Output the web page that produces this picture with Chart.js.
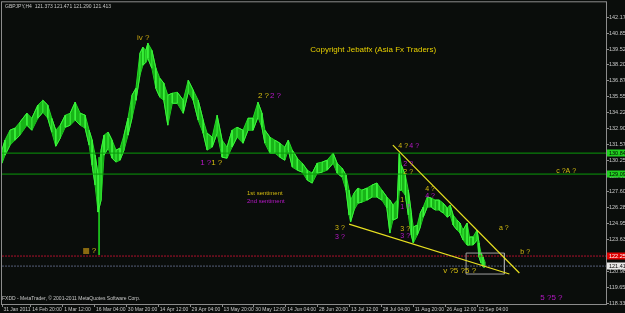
<!DOCTYPE html>
<html>
<head>
<meta charset="utf-8">
<script src="https://cdn.jsdelivr.net/npm/chart.js@4.4.0/dist/chart.umd.min.js"></script>
<style>
  html, body { margin: 0; padding: 0; background: #0a0d0b; }
  #wrap { width: 625px; height: 313px; }
</style>
</head>
<body>
<div id="wrap"><canvas id="myChart" width="625" height="313"></canvas></div>
<script>
// GBPJPY H4, time axis in H4 bars
const timeLabels = ['31 Jan 2011', '14 Feb 20:00', '1 Mar 12:00', '16 Mar 04:00', '30 Mar 20:00', '14 Apr 12:00',
  '29 Apr 04:00', '13 May 20:00', '30 May 12:00', '14 Jun 04:00', '28 Jun 20:00', '13 Jul 12:00',
  '28 Jul 04:00', '11 Aug 20:00', '26 Aug 12:00', '12 Sep 04:00'];
const timeTicks = [6, 64, 128, 192, 256, 320, 384, 448, 512, 576, 640, 704, 768, 832, 896, 960];
const priceTicks = ['142.170', '140.850', '139.520', '138.200', '136.870', '135.550', '134.220', '132.900', '131.570',
  '130.250', '128.930', '127.600', '126.280', '124.950', '123.630', '122.300', '120.980', '119.650', '118.330'];

const barIndex = [6, 12, 22, 32, 42, 56, 66, 78, 88, 98, 106, 114, 123, 133, 143, 153, 163, 173, 181, 187, 193, 199,
  205, 211, 219, 227, 235, 243, 251, 259, 267, 275, 283, 289, 295, 299, 307, 315, 323, 331, 339, 348, 358, 370, 380,
  390, 400, 410, 418, 428, 438, 448, 458, 468, 478, 490, 500, 510, 520, 528, 534, 544, 554, 564, 574, 581, 589, 599,
  609, 619, 629, 639, 649, 659, 671, 679, 689, 697, 703, 706, 713, 721, 729, 739, 749, 759, 769, 779, 785, 791, 800,
  804, 808, 816, 822, 828, 832, 840, 846, 852, 860, 868, 876, 884, 892, 900, 906, 912, 920, 926, 932, 940, 945, 952,
  960, 964, 968, 972, 976];
const highs = [131.09, 131.92, 132.75, 132.92, 133.42, 134.17, 133.75, 134.84, 135.25, 134.84, 133.75, 132.75, 133.17,
  134.00, 134.17, 135.09, 134.17, 134.00, 132.75, 131.92, 130.67, 129.00, 131.09, 132.34, 132.59, 131.92, 131.09,
  131.25, 132.34, 133.75, 135.67, 136.25, 139.17, 139.67, 139.42, 140.00, 139.42, 137.92, 137.09, 136.67, 135.67,
  135.84, 135.92, 135.25, 136.92, 136.09, 135.25, 133.59, 132.50, 132.17, 134.00, 131.92, 131.34, 132.75, 133.00,
  132.75, 133.75, 133.75, 135.09, 134.17, 132.75, 132.17, 131.92, 131.67, 131.34, 131.92, 131.09, 130.42, 130.00,
  129.42, 129.17, 130.00, 130.09, 130.25, 130.84, 130.00, 129.59, 129.00, 127.75, 126.92, 127.50, 127.92, 127.75,
  127.92, 128.17, 128.34, 127.75, 127.17, 126.92, 126.50, 126.92, 130.84, 129.84, 129.00, 127.75, 125.84, 124.67,
  124.84, 125.84, 126.34, 127.17, 127.09, 126.92, 126.92, 126.67, 126.25, 126.50, 125.67, 125.25, 125.00, 124.42,
  125.00, 123.84, 123.84, 124.42, 123.34, 122.50, 122.17, 121.75];
const lows = [130.00, 130.67, 131.50, 131.92, 132.34, 133.17, 132.75, 133.75, 134.25, 133.75, 132.59, 131.42, 132.09,
  133.00, 133.17, 133.59, 133.17, 132.92, 131.50, 129.84, 128.17, 125.92, 126.92, 130.67, 131.25, 130.42, 130.09,
  130.25, 131.09, 132.34, 133.75, 135.25, 137.34, 138.17, 138.42, 138.75, 137.92, 136.25, 135.50, 135.25, 133.17,
  135.00, 135.00, 134.17, 135.92, 135.25, 133.59, 132.50, 131.09, 131.34, 132.50, 130.50, 130.42, 131.34, 132.17,
  131.67, 132.75, 132.75, 133.84, 133.00, 131.67, 130.84, 130.84, 130.50, 130.25, 131.09, 129.67, 129.42, 129.25,
  128.59, 128.34, 129.17, 129.25, 129.42, 130.00, 129.17, 128.84, 127.75, 125.67, 125.09, 126.09, 126.67, 126.75,
  126.92, 127.17, 127.17, 126.92, 126.25, 124.17, 125.25, 125.42, 127.75, 127.75, 127.34, 125.67, 124.00, 123.34,
  124.00, 124.67, 125.50, 126.34, 126.34, 126.09, 126.09, 125.84, 125.50, 125.67, 124.84, 124.42, 124.17, 123.59,
  123.17, 123.17, 123.17, 123.59, 122.17, 121.67, 121.34, 121.34];

// quake spike wick (17 Mar)
const wickBar = 201;
const wickPrices = [130.5, 122.34];

// horizontal lines
const greenLevels = [130.84, 129.09];
const redLevel = 122.25;
const bidLevel = 121.413;

// wedge trend lines [bar, price]
const upperTrend = [[791, 131.50], [1045, 120.84]];
const lowerTrend = [[703, 124.92], [1025, 120.75]];
const boxBars = [938, 1015];
const boxPrices = [122.50, 120.75];

const xMin = 6, xMax = 1219;
const yMin = 118.25, yMax = 143.34;

const YEL = '#d4bc10';
const MAG = '#b818c8';

// text notes: [text, bar, price, color, size]
const notes = [
  ['iv ?', 277, 140.50, '#c8a410', 8],
  ['Copyright Jebatfx (Asia Fx Traders)', 625, 139.50, '#e8d000', 8],
  ['2 ?', 520, 135.59, YEL, 8],
  ['2 ?', 544, 135.59, MAG, 8],
  ['1 ?', 404, 130.00, MAG, 8],
  ['1 ?', 426, 130.00, YEL, 8],
  ['1st sentiment', 498, 127.50, YEL, 6],
  ['2nd sentiment', 498, 126.85, MAG, 6],
  ['3 ?', 675, 124.59, YEL, 7],
  ['3 ?', 675, 123.84, MAG, 7],
  ['4 ?', 802, 131.42, YEL, 7],
  ['4 ?', 824, 131.42, MAG, 7],
  ['2 ?', 812, 129.92, MAG, 7],
  ['2 ?', 812, 129.25, YEL, 7],
  ['1', 806, 126.92, YEL, 7],
  ['1 ?', 806, 126.30, MAG, 7],
  ['3 ?', 806, 124.50, YEL, 7],
  ['3 ?', 806, 123.92, MAG, 7],
  ['4 ?', 856, 127.84, YEL, 7],
  ['4 ?', 856, 127.25, MAG, 7],
  ['c ?A ?', 1119, 129.34, YEL, 7],
  ['a ?', 1004, 124.59, YEL, 7],
  ['b ?', 1047, 122.59, YEL, 7],
  ['v ?5 ?5 ?', 892, 121.00, YEL, 8],
  ['5 ?5 ?', 1087, 118.75, MAG, 8],
  ['?', 186, 122.67, YEL, 8]
];

const pts = (a) => a.map(p => ({ x: p[0], y: p[1] }));

// zig-zag through each sample's low and high, gives the bar texture
const zigzag = [];
barIndex.forEach((b, i) => {
  if (i % 2 === 0) { zigzag.push({ x: b, y: lows[i] }, { x: b, y: highs[i] }); }
  else { zigzag.push({ x: b, y: highs[i] }, { x: b, y: lows[i] }); }
});

const notesPlugin = {
  id: 'notes',
  beforeDraw(chart) {
    const c = chart.ctx;
    c.save();
    c.fillStyle = '#0a0d0b';
    c.fillRect(0, 0, chart.width, chart.height);
    c.restore();
  },
  afterDatasetsDraw(chart) {
    const c = chart.ctx, xs = chart.scales.x, ys = chart.scales.y, a = chart.chartArea;
    c.save();
    c.textBaseline = 'middle';
    c.textAlign = 'left';
    notes.forEach(n => {
      c.font = n[4] + 'px "Liberation Sans", Arial, sans-serif';
      c.fillStyle = n[3];
      c.fillText(n[0], xs.getPixelForValue(n[1]), ys.getPixelForValue(n[2]));
    });
    // small brown marker before the "?"
    c.fillStyle = '#8a6a10';
    c.fillRect(xs.getPixelForValue(171) - 1, ys.getPixelForValue(122.67) - 3, 6, 6);
    // header and footer
    c.fillStyle = '#c8c8c8';
    c.font = '5px "Liberation Sans", Arial, sans-serif';
    c.fillText('GBPJPY,H4  121.373 121.471 121.290 121.413', a.left + 3, a.top + 3);
    c.fillText('FXDD - MetaTrader, \u00a9 2001-2011 MetaQuotes Software Corp.', a.left, a.bottom - 5);
    // frame
    c.strokeStyle = '#8c8c8c';
    c.lineWidth = 1;
    c.strokeRect(a.left - 0.5, a.top - 1.5, a.right - a.left + 1, a.bottom - a.top + 2);
    c.restore();
  },
  afterDraw(chart) {
    const c = chart.ctx, ys = chart.scales.y, a = chart.chartArea;
    const tags = [
      [greenLevels[0], '#20d020', '#000'],
      [greenLevels[1], '#20d020', '#000'],
      [redLevel, '#e00000', '#fff'],
      [bidLevel, '#e8e8e8', '#000']
    ];
    c.save();
    c.font = '5.5px "Liberation Sans", Arial, sans-serif';
    c.textBaseline = 'middle';
    c.textAlign = 'left';
    tags.forEach(t => {
      const y = ys.getPixelForValue(t[0]);
      c.fillStyle = t[1];
      c.fillRect(a.right + 1, Math.round(y) - 3.5, 19, 7);
      c.fillStyle = t[2];
      c.fillText(t[0].toFixed(3), a.right + 3, y);
    });
    c.restore();
  }
};

new Chart(document.getElementById('myChart'), {
  type: 'line',
  data: {
    datasets: [
      {
        data: barIndex.map((b, i) => ({ x: b, y: highs[i] })),
        borderColor: '#22d822', backgroundColor: '#18b418', borderWidth: 1,
        pointRadius: 0, fill: '+1', tension: 0, order: 6
      },
      {
        data: barIndex.map((b, i) => ({ x: b, y: lows[i] })),
        borderColor: '#22d822', borderWidth: 1, pointRadius: 0, fill: false, tension: 0, order: 6
      },
      {
        data: zigzag,
        borderColor: '#3cf43c', borderWidth: 1, pointRadius: 0, fill: false, tension: 0, order: 5
      },
      {
        data: wickPrices.map(p => ({ x: wickBar, y: p })),
        borderColor: '#1ec81e', borderWidth: 1, pointRadius: 0, fill: false, order: 5
      },
      {
        data: [{ x: xMin, y: greenLevels[0] }, { x: xMax, y: greenLevels[0] }],
        borderColor: '#0a9a0a', borderWidth: 1, pointRadius: 0, fill: false, order: 3
      },
      {
        data: [{ x: xMin, y: greenLevels[1] }, { x: xMax, y: greenLevels[1] }],
        borderColor: '#0a9a0a', borderWidth: 1, pointRadius: 0, fill: false, order: 3
      },
      {
        data: [{ x: xMin, y: redLevel }, { x: xMax, y: redLevel }],
        borderColor: '#b0102c', borderWidth: 1, borderDash: [2, 1], pointRadius: 0, fill: false, order: 3
      },
      {
        data: [{ x: xMin, y: bidLevel }, { x: xMax, y: bidLevel }],
        borderColor: '#56607a', borderWidth: 1, borderDash: [2, 1], pointRadius: 0, fill: false, order: 3
      },
      {
        data: pts(upperTrend),
        borderColor: '#e8e020', borderWidth: 1.2, pointRadius: 0, fill: false, order: 1
      },
      {
        data: pts(lowerTrend),
        borderColor: '#e8e020', borderWidth: 1.2, pointRadius: 0, fill: false, order: 1
      },
      {
        data: [
          { x: boxBars[0], y: boxPrices[0] }, { x: boxBars[1], y: boxPrices[0] },
          { x: boxBars[1], y: boxPrices[1] }, { x: boxBars[0], y: boxPrices[1] },
          { x: boxBars[0], y: boxPrices[0] }
        ],
        borderColor: '#a0a0a0', borderWidth: 1, pointRadius: 0, fill: false, order: 2
      }
    ]
  },
  options: {
    responsive: false,
    animation: false,
    events: [],
    layout: { padding: { left: 2, top: 3, right: 0, bottom: 0 } },
    plugins: { legend: { display: false }, tooltip: { enabled: false } },
    scales: {
      x: {
        type: 'linear', min: xMin, max: xMax,
        afterBuildTicks: (s) => { s.ticks = timeTicks.map(v => ({ value: v })); },
        afterFit: (s) => { s.height = 9; },
        grid: { drawOnChartArea: false, color: '#8c8c8c', tickLength: 3 },
        border: { color: '#8c8c8c' },
        ticks: {
          autoSkip: false, maxRotation: 0, align: 'start', padding: 0,
          color: '#c8c8c8', font: { size: 5, family: '"Liberation Sans", Arial, sans-serif' },
          callback: (v) => ' ' + timeLabels[timeTicks.indexOf(v)]
        }
      },
      y: {
        type: 'linear', position: 'right', min: yMin, max: yMax,
        afterBuildTicks: (s) => { s.ticks = priceTicks.map(v => ({ value: parseFloat(v) })); },
        afterFit: (s) => { s.width = 19; },
        grid: { drawOnChartArea: false, color: '#8c8c8c', tickLength: 3 },
        border: { color: '#8c8c8c' },
        ticks: {
          autoSkip: false, padding: 0,
          color: '#c8c8c8', font: { size: 5.5, family: '"Liberation Sans", Arial, sans-serif' },
          callback: (v) => priceTicks[priceTicks.map(parseFloat).indexOf(v)]
        }
      }
    }
  },
  plugins: [notesPlugin]
});
</script>
</body>
</html>
